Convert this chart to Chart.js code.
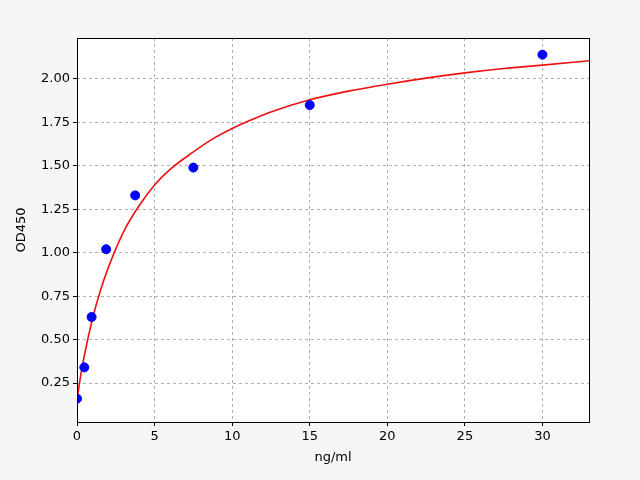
<!DOCTYPE html>
<html><head><meta charset="utf-8">
<script src="https://cdn.jsdelivr.net/npm/chart.js@4"></script>
<style>html,body{margin:0;padding:0;background:#f5f5f5}</style>
</head><body>
<div style="width:640px;height:480px"><canvas id="c" width="640" height="480"></canvas></div>
<script>
const concX = [0, 0.47, 0.94, 1.88, 3.75, 7.5, 15, 30];
const odY = [0.16, 0.34, 0.63, 1.02, 1.33, 1.49, 1.85, 2.14];
const curveX = [0, 0.25, 0.5, 1, 1.5, 2, 3, 4, 5, 6, 7.5, 8.75, 10, 11.25, 12.5, 15, 17.5, 20, 22.5, 25, 27.5, 30, 33];
const curveY = [0.15, 0.30, 0.42, 0.62, 0.78, 0.91, 1.12, 1.27, 1.39, 1.48, 1.58, 1.655, 1.715, 1.765, 1.81, 1.88, 1.93, 1.97, 2.005, 2.035, 2.06, 2.08, 2.105];
const yTicks = [0.25, 0.5, 0.75, 1.0, 1.25, 1.5, 1.75, 2.0];
const xTicks = [0, 5, 10, 15, 20, 25, 30];
const xTitle = 'ng/ml', yTitle = 'OD450';
const F = {family:'DejaVu Sans', size:13};
const frame = {id:'frame', beforeDraw(c){const a=c.chartArea,x=c.ctx;x.save();x.fillStyle='#fff';x.fillRect(a.left,a.top,a.width,a.height);x.restore();},
 afterDraw(c){const a=c.chartArea,x=c.ctx;x.save();x.strokeStyle='#000';x.lineWidth=1;x.strokeRect(a.left+0.5,a.top+0.5,a.width,a.height);
  x.fillStyle='#000';x.font='13px "DejaVu Sans"';x.textAlign='center';x.textBaseline='middle';
  x.fillText(xTitle,(a.left+a.right)/2,458);
  x.translate(22,(a.top+a.bottom)/2);x.rotate(-Math.PI/2);x.fillText(yTitle,0,0);x.restore();}};
new Chart(document.getElementById('c'), {
 type:'scatter',
 data:{datasets:[
  {data:curveX.map((x,i)=>({x, y:curveY[i]})), showLine:true, borderColor:'#ee1111', borderWidth:1.6, pointRadius:0, cubicInterpolationMode:'monotone', order:2},
  {data:concX.map((x,i)=>({x, y:odY[i]})), backgroundColor:'#0000ff', borderColor:'#0000ff', pointRadius:4.5, order:1}
 ]},
 plugins:[frame],
 options:{responsive:false, animation:false, devicePixelRatio:1,
  layout:{padding:{top:38,right:51,left:0,bottom:0}},
  plugins:{legend:{display:false}, tooltip:{enabled:false}},
  scales:{
   x:{type:'linear', min:0, max:33, afterFit(s){s.height=58;},
    afterBuildTicks(s){s.ticks=xTicks.map(v=>({value:v}));},
    grid:{color:'#b0b0b0', drawTicks:true, tickLength:4, tickColor:'#000'}, border:{display:false, dash:[3,3]},
    ticks:{color:'#000', font:F, maxRotation:0, callback:v=>String(v)}},
   y:{type:'linear', min:0.0255, max:2.236, afterFit(s){s.width=77;},
    afterBuildTicks(s){s.ticks=yTicks.map(v=>({value:v}));},
    grid:{color:'#b0b0b0', drawTicks:true, tickLength:4, tickColor:'#000'}, border:{display:false, dash:[3,3]},
    ticks:{color:'#000', font:F, callback:v=>v.toFixed(2)}}
  }}
});
</script></body></html>
